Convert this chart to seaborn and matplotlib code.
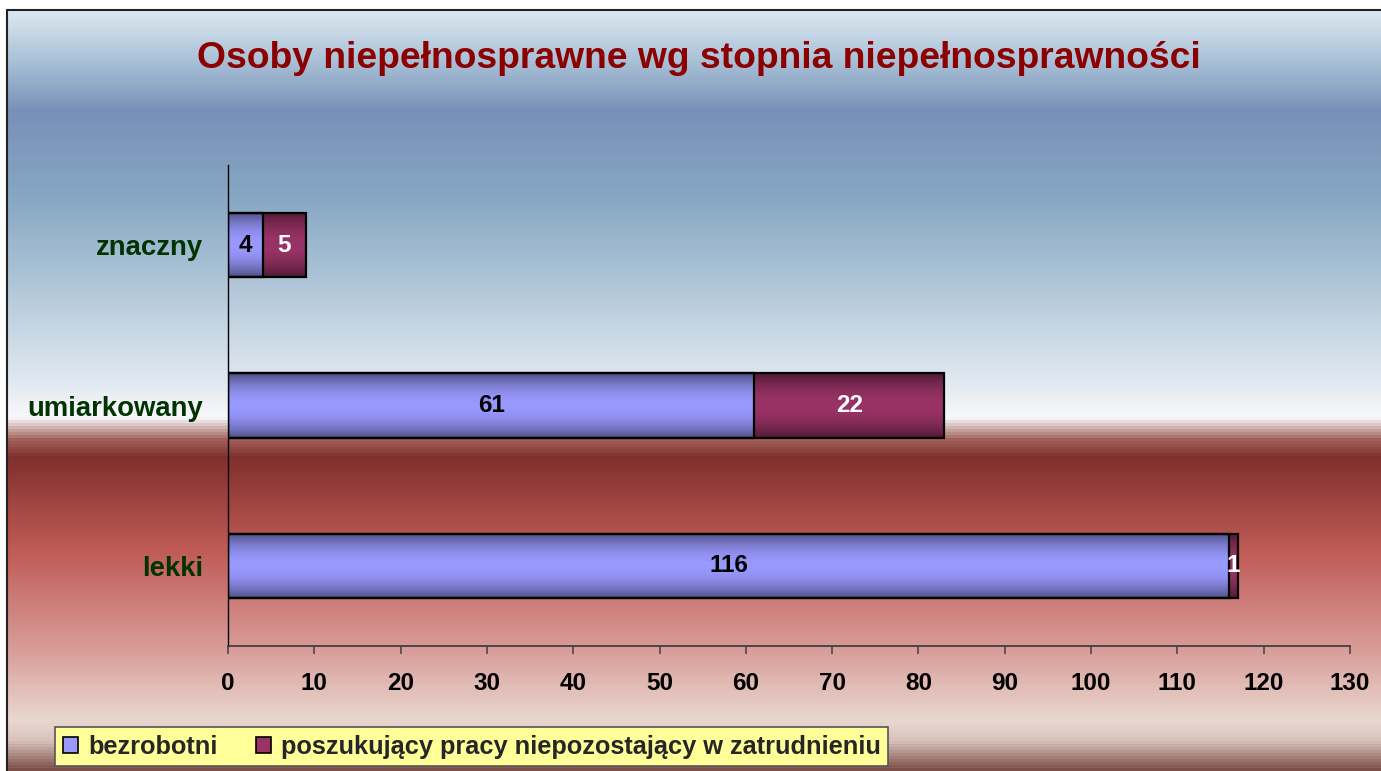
import numpy as np
import pandas as pd
import matplotlib
matplotlib.use('Agg')
import matplotlib.pyplot as plt
import seaborn as sns
from matplotlib.colors import LinearSegmentedColormap, to_rgb
from matplotlib.patches import Patch
from matplotlib.lines import Line2D

# ---- data ----
categories = ['znaczny', 'umiarkowany', 'lekki']
bezrobotni = [4, 61, 116]
poszukujacy = [5, 22, 1]
series_names = ['bezrobotni', 'poszukujący pracy niepozostający w zatrudnieniu']
xticks = list(range(0, 131, 10))
title = 'Osoby niepełnosprawne wg stopnia niepełnosprawności'

# ---- style ----
sns.set_theme(style='white')
plt.rcParams['font.family'] = ['Liberation Sans', 'DejaVu Sans']

BLUE_MID, BLUE_EDGE = '#9999ff', '#4c4c80'
MAR_MID, MAR_EDGE = '#993366', '#4a1830'

W, H = 1381, 771
fig = plt.figure(figsize=(W / 100, H / 100), dpi=100)
fig.patch.set_facecolor('white')

# background gradient
bg = fig.add_axes([7 / W, 0, 1 - 7 / W, 761 / H])
stops = [(10, '#dce8f2'), (60, '#a8c0d6'), (110, '#7890b8'), (200, '#88a8c4'),
         (300, '#b8ccdc'), (380, '#e0e8f0'), (418, '#f8f8fa'), (440, '#a0605a'),
         (458, '#80302e'), (550, '#c05a55'), (650, '#d89c98'), (722, '#ead8d0'),
         (742, '#d8c4bc'), (771, '#7c5048')]
cm = LinearSegmentedColormap.from_list('bg', [((y - 10) / 761, c) for y, c in stops])
bg.imshow(np.linspace(0, 1, 761)[:, None], aspect='auto', cmap=cm, origin='upper',
          interpolation='bilinear')
bg.set_axis_off()
fig.add_artist(Line2D([7 / W, 7 / W], [0, 1 - 10 / H], color='#222222', lw=1.5,
                      transform=fig.transFigure))
fig.add_artist(Line2D([7 / W, 1], [1 - 10 / H, 1 - 10 / H], color='#222222', lw=1.5,
                      transform=fig.transFigure))

# main axes
ax = fig.add_axes([228 / W, 1 - 646 / H, (1350 - 228) / W, (646 - 165) / H])
ax.patch.set_alpha(0)

df = pd.DataFrame({'cat': categories, 'b': bezrobotni, 'p': poszukujacy})
df['total'] = df['b'] + df['p']

sns.barplot(data=df, x='total', y='cat', order=categories, color=MAR_MID, saturation=1,
            width=0.4, edgecolor='black', linewidth=1.6, ax=ax, orient='h')
sns.barplot(data=df, x='b', y='cat', order=categories, color=BLUE_MID, saturation=1,
            width=0.4, edgecolor='black', linewidth=1.6, ax=ax, orient='h')

patches = list(ax.patches)
n = len(categories)
mar_patches, blue_patches = patches[:n], patches[n:]


def grad_fill(p, mid, edge, z):
    t = np.linspace(0, 1, 64)
    f = np.sin(np.pi * t) ** 0.8
    m, e = np.array(to_rgb(mid)), np.array(to_rgb(edge))
    img = e[None, :] * (1 - f[:, None]) + m[None, :] * f[:, None]
    img = img[:, None, :]
    x0, y0, w, h = p.get_x(), p.get_y(), p.get_width(), p.get_height()
    im = ax.imshow(img, extent=[x0, x0 + w, y0 + h, y0], aspect='auto', zorder=z,
                   interpolation='bilinear')
    im.set_clip_path(p)
    p.set_facecolor('none')
    p.set_zorder(z + 1)


for p in mar_patches:
    grad_fill(p, MAR_MID, MAR_EDGE, 2.0)
for p in blue_patches:
    grad_fill(p, BLUE_MID, BLUE_EDGE, 2.2)

ax.set_xlim(0, 130)
ax.set_ylim(2.5, -0.5)
ax.set_xticks(xticks)
ax.set_xticklabels([str(v) for v in xticks])
ax.set_xlabel('')
ax.set_ylabel('')

for bp, mp in zip(blue_patches, mar_patches):
    yc = bp.get_y() + bp.get_height() / 2
    ax.text(bp.get_x() + bp.get_width() / 2, yc, f'{bp.get_width():.0f}', ha='center',
            va='center', fontsize=17.5, fontweight='bold', color='black', zorder=5)
    seg = mp.get_width() - bp.get_width()
    ax.text((bp.get_width() + mp.get_width()) / 2, yc, f'{seg:.0f}', ha='center',
            va='center', fontsize=17.5, fontweight='bold', color='white', zorder=5)

for s in ['top', 'right']:
    ax.spines[s].set_visible(False)
ax.spines['left'].set_color('black')
ax.spines['left'].set_linewidth(1.0)
ax.spines['bottom'].set_color('#404040')
ax.spines['bottom'].set_linewidth(1.3)
ax.tick_params(axis='x', bottom=True, direction='out', length=6, width=1.1,
               color='#404040', labelsize=17.5, pad=13, labelcolor='black')
ax.tick_params(axis='y', left=False, length=0, pad=18, labelsize=19.8,
               labelcolor='#003300')
for lab in ax.get_xticklabels() + ax.get_yticklabels():
    lab.set_fontweight('bold')

fig.text(0.506, 1 - 58 / H, title, ha='center', va='center', fontsize=26.8,
         fontweight='bold', color='#8b0000')

handles = [Patch(facecolor=BLUE_MID, edgecolor='black', linewidth=1.2),
           Patch(facecolor=MAR_MID, edgecolor='black', linewidth=1.2)]
leg = fig.legend(handles, series_names, loc='upper left', bbox_to_anchor=(55 / W, 1 - 727 / H),
                 ncol=2, frameon=True, facecolor='#ffff99', edgecolor='#555555', fancybox=False,
                 framealpha=1, prop={'weight': 'bold', 'size': 18.3}, handlelength=0.6,
                 handleheight=0.6, handletextpad=0.4, columnspacing=1.5, borderpad=0.3,
                 borderaxespad=0)
leg.get_frame().set_linewidth(1.2)

fig.savefig('out.png', dpi=100)
